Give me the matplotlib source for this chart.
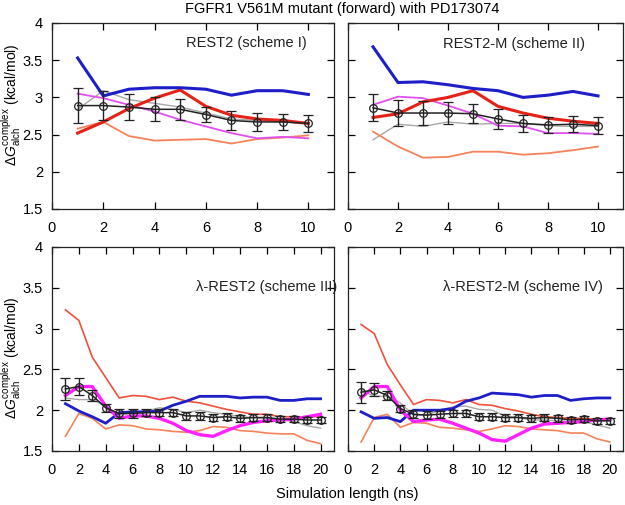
"""FGFR1 V561M mutant (forward) with PD173074: convergence of dG_alch(complex) for four REST2 schemes."""

import matplotlib.pyplot as plt
from matplotlib.ticker import FormatStrFormatter

plt.rcParams["font.family"] = ["Liberation Sans", "DejaVu Sans"]
plt.rcParams["mathtext.fontset"] = "custom"
plt.rcParams["mathtext.rm"] = "Liberation Sans"
plt.rcParams["mathtext.it"] = "Liberation Sans:italic"
plt.rcParams["font.size"] = 10.5

NS_10 = [1, 2, 3, 4, 5, 6, 7, 8, 9, 10]
NS_20 = [1, 2, 3, 4, 5, 6, 7, 8, 9, 10, 11, 12, 13, 14, 15, 16, 17, 18, 19, 20]

# scheme I (REST2)
S1_BLUE = [3.53, 3.02, 3.11, 3.13, 3.13, 3.11, 3.03, 3.09, 3.09, 3.04]
S1_RED = [2.52, 2.67, 2.85, 2.99, 3.10, 2.88, 2.76, 2.71, 2.69, 2.65]
S1_MAGENTA = [3.05, 2.99, 2.90, 2.81, 2.70, 2.61, 2.52, 2.45, 2.47, 2.45]
S1_ORANGE = [2.58, 2.67, 2.48, 2.42, 2.43, 2.44, 2.38, 2.44, 2.46, 2.49]
S1_GRAY = [2.84, 3.09, 2.97, 2.92, 2.87, 2.79, 2.71, 2.69, 2.67, 2.65]
S1_MEAN = [2.89, 2.89, 2.87, 2.84, 2.84, 2.77, 2.69, 2.67, 2.67, 2.65]
S1_ERR = [0.24, 0.19, 0.18, 0.16, 0.14, 0.10, 0.13, 0.12, 0.11, 0.11]

# scheme II (REST2-M)
S2_BLUE = [3.68, 3.20, 3.21, 3.17, 3.12, 3.09, 3.00, 3.03, 3.08, 3.02]
S2_RED = [2.73, 2.78, 2.94, 3.00, 3.09, 2.88, 2.79, 2.72, 2.68, 2.65]
S2_MAGENTA = [2.90, 3.01, 2.99, 2.89, 2.78, 2.62, 2.61, 2.52, 2.52, 2.51]
S2_ORANGE = [2.54, 2.34, 2.19, 2.20, 2.27, 2.27, 2.23, 2.25, 2.29, 2.34]
S2_GRAY = [2.43, 2.64, 2.61, 2.67, 2.64, 2.65, 2.65, 2.62, 2.61, 2.61]
S2_MEAN = [2.86, 2.79, 2.79, 2.79, 2.78, 2.71, 2.65, 2.63, 2.64, 2.62]
S2_ERR = [0.18, 0.17, 0.16, 0.15, 0.13, 0.13, 0.12, 0.11, 0.11, 0.11]

# scheme III (lambda-REST2)
S3_RED = [3.23, 3.10, 2.65, 2.40, 2.15, 2.18, 2.17, 2.13, 2.16, 2.11,
          2.09, 2.05, 2.01, 1.98, 1.95, 1.95, 1.92, 1.92, 1.91, 1.93]
S3_BLUE = [2.08, 1.99, 1.92, 1.84, 1.97, 1.98, 1.98, 1.99, 2.06, 2.11,
           2.17, 2.17, 2.17, 2.15, 2.16, 2.16, 2.12, 2.12, 2.14, 2.14]
S3_MAGENTA = [2.18, 2.29, 2.29, 2.05, 1.90, 1.93, 1.93, 1.90, 1.84, 1.75,
              1.70, 1.68, 1.75, 1.81, 1.85, 1.87, 1.88, 1.89, 1.92, 1.95]
S3_ORANGE = [1.68, 1.96, 1.90, 1.77, 1.82, 1.81, 1.77, 1.76, 1.74, 1.73,
             1.75, 1.80, 1.79, 1.75, 1.74, 1.72, 1.71, 1.71, 1.63, 1.59]
S3_GRAY = [2.15, 2.13, 2.13, 2.05, 1.94, 1.97, 1.99, 2.03, 2.01, 1.97,
           2.00, 1.97, 1.95, 1.92, 1.91, 1.90, 1.89, 1.86, 1.81, 1.78]
S3_MEAN = [2.26, 2.29, 2.18, 2.03, 1.96, 1.96, 1.97, 1.97, 1.97, 1.93,
           1.93, 1.91, 1.92, 1.90, 1.91, 1.91, 1.89, 1.89, 1.88, 1.88]
S3_ERR = [0.14, 0.10, 0.07, 0.05, 0.05, 0.05, 0.04, 0.04, 0.04, 0.05,
          0.05, 0.04, 0.04, 0.04, 0.04, 0.04, 0.04, 0.04, 0.04, 0.04]

# scheme IV (lambda-REST2-M)
S4_RED = [3.05, 2.94, 2.56, 2.31, 2.07, 2.13, 2.12, 2.09, 2.13, 2.07,
          2.06, 2.02, 1.99, 1.95, 1.92, 1.91, 1.90, 1.90, 1.89, 1.90]
S4_BLUE = [1.98, 1.90, 1.91, 1.86, 2.00, 2.00, 2.00, 2.02, 2.11, 2.15,
           2.21, 2.20, 2.19, 2.16, 2.18, 2.18, 2.12, 2.14, 2.15, 2.15]
S4_MAGENTA = [2.15, 2.29, 2.29, 2.00, 1.86, 1.88, 1.89, 1.84, 1.78, 1.72,
              1.64, 1.62, 1.70, 1.78, 1.83, 1.84, 1.85, 1.86, 1.88, 1.89]
S4_ORANGE = [1.61, 1.91, 1.95, 1.79, 1.85, 1.84, 1.79, 1.78, 1.76, 1.74,
             1.77, 1.81, 1.80, 1.77, 1.76, 1.75, 1.72, 1.72, 1.65, 1.61]
S4_GRAY = [2.25, 2.17, 2.17, 2.09, 1.94, 1.94, 2.00, 2.04, 2.05, 2.01,
           2.00, 1.93, 1.91, 1.88, 1.88, 1.87, 1.86, 1.86, 1.82, 1.78]
S4_MEAN = [2.22, 2.25, 2.18, 2.02, 1.95, 1.94, 1.95, 1.96, 1.96, 1.92,
           1.92, 1.91, 1.91, 1.90, 1.91, 1.90, 1.88, 1.89, 1.87, 1.87]
S4_ERR = [0.13, 0.08, 0.05, 0.04, 0.05, 0.05, 0.04, 0.04, 0.04, 0.04,
          0.04, 0.04, 0.04, 0.04, 0.04, 0.04, 0.04, 0.04, 0.04, 0.04]

TITLES = ["REST2 (scheme I)", "REST2-M (scheme II)",
          "\u03bb-REST2 (scheme III)", "\u03bb-REST2-M (scheme IV)"]

BLUE = "#1e1ec8"
RED = "#e52218"
RED_THIN = "#f0503c"
MAG_TOP = "#e050ec"
MAG_BOT = "#ff22ff"
ORANGE = "#f5825a"
GRAY = "#a8a8a8"

# axes rectangles in pixels: left, top, right, bottom
BOXES = [(52, 23, 334, 209), (348, 23, 623, 209),
         (52, 247, 334, 451), (348, 247, 623, 451)]
W, H = 625, 505


def draw_panel(ax, x, lines, mean, err, long_run):
    for y, color, lw in lines:
        ax.plot(x, y, color=color, lw=lw, solid_joinstyle="round")
    ax.errorbar(x, mean, yerr=err, color="#222222", lw=1.1, marker="o",
                mfc="none", ms=5.5, mew=0.9, capsize=3.5, elinewidth=1.0,
                capthick=1.0)
    ax.set_ylim(1.5, 4)
    ax.set_yticks([1.5, 2, 2.5, 3, 3.5, 4])
    ax.yaxis.set_major_formatter(FormatStrFormatter("%g"))
    if long_run:
        ax.set_xlim(0, 21)
        ax.set_xticks(range(0, 21, 2))
    else:
        ax.set_xlim(0, 11)
        ax.set_xticks(range(0, 11, 2))
    ax.tick_params(direction="in", top=True, right=True, length=5,
                   width=0.9, labelsize=10.5)
    ax.tick_params(axis="x", pad=9)
    ax.tick_params(axis="y", pad=6.5)
    for sp in ax.spines.values():
        sp.set_linewidth(0.9)
        sp.set_color("#222222")


def main():
    fig = plt.figure(figsize=(W / 100, H / 100), dpi=100)
    axes = []
    for (l, t, r, b) in BOXES:
        axes.append(fig.add_axes([l / W, 1 - b / H, (r - l) / W, (b - t) / H]))

    draw_panel(axes[0], NS_10,
               [(S1_GRAY, GRAY, 1.0), (S1_ORANGE, ORANGE, 1.3),
                (S1_MAGENTA, MAG_TOP, 1.3), (S1_RED, RED, 2.2),
                (S1_BLUE, BLUE, 2.2)], S1_MEAN, S1_ERR, False)
    draw_panel(axes[1], NS_10,
               [(S2_GRAY, GRAY, 1.0), (S2_ORANGE, ORANGE, 1.3),
                (S2_MAGENTA, MAG_TOP, 1.3), (S2_RED, RED, 2.2),
                (S2_BLUE, BLUE, 2.2)], S2_MEAN, S2_ERR, False)
    draw_panel(axes[2], NS_20,
               [(S3_GRAY, GRAY, 1.0), (S3_ORANGE, ORANGE, 1.2),
                (S3_RED, RED_THIN, 1.2), (S3_BLUE, BLUE, 2.0),
                (S3_MAGENTA, MAG_BOT, 2.4)], S3_MEAN, S3_ERR, True)
    draw_panel(axes[3], NS_20,
               [(S4_GRAY, GRAY, 1.0), (S4_ORANGE, ORANGE, 1.2),
                (S4_RED, RED_THIN, 1.2), (S4_BLUE, BLUE, 2.0),
                (S4_MAGENTA, MAG_BOT, 2.4)], S4_MEAN, S4_ERR, True)

    label_pos = [(307, 43), (585, 44), (337, 287), (603, 287)]
    for ax, title, (px, py) in zip(axes, TITLES, label_pos):
        fig.text(px / W, 1 - py / H, title, ha="right", va="center",
                 fontsize=10.5, color="#222222")

    for ax in (axes[1], axes[3]):
        ax.tick_params(labelleft=False)

    ylab = r"$\Delta G_{\mathrm{alch}}^{\mathrm{complex}}$ (kcal/mol)"
    for py in (105, 358):
        fig.text(11.5 / W, 1 - py / H, ylab, rotation=90, ha="center",
                 va="center", fontsize=10)

    fig.text(342 / W, 1 - 9 / H, "FGFR1 V561M mutant (forward) with PD173074",
             ha="center", va="center", fontsize=10.5)
    fig.text(347 / W, 1 - 494 / H, "Simulation length (ns)",
             ha="center", va="center", fontsize=10.5)

    fig.savefig("out.png", dpi=100)


if __name__ == "__main__":
    main()
